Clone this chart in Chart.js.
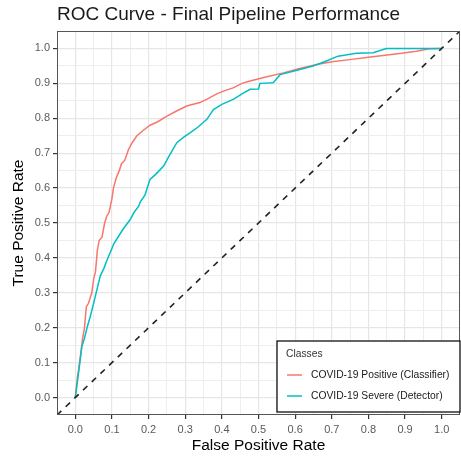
<!DOCTYPE html>
<html>
<head>
<meta charset="utf-8">
<script src="https://cdn.jsdelivr.net/npm/chart.js@4/dist/chart.umd.min.js"></script>
<style>
  html, body { margin: 0; padding: 0; background: #fff; }
</style>
</head>
<body>
<canvas id="roc" width="461" height="457"></canvas>
<script>
// values
const classLabels = ['COVID-19 Positive (Classifier)', 'COVID-19 Severe (Detector)'];
const classColors = ['#F8766D', '#00BFC4'];

const posFpr = [0, 0.003, 0.006, 0.009, 0.014, 0.02, 0.025, 0.03, 0.036, 0.045, 0.05, 0.055, 0.06, 0.065, 0.073, 0.08, 0.086, 0.092, 0.1, 0.104, 0.112, 0.12, 0.126, 0.135, 0.145, 0.155, 0.168, 0.185, 0.204, 0.225, 0.25, 0.275, 0.304, 0.34, 0.36, 0.386, 0.41, 0.431, 0.455, 0.477, 0.52, 0.568, 0.61, 0.659, 0.7, 0.749, 0.8, 0.84, 0.89, 0.931, 0.967, 1];
const posTpr = [0, 0.03, 0.06, 0.08, 0.12, 0.17, 0.2, 0.26, 0.27, 0.3, 0.34, 0.36, 0.42, 0.45, 0.46, 0.5, 0.52, 0.53, 0.57, 0.6, 0.63, 0.65, 0.67, 0.68, 0.71, 0.73, 0.75, 0.765, 0.78, 0.79, 0.806, 0.82, 0.835, 0.845, 0.855, 0.87, 0.88, 0.887, 0.9, 0.907, 0.918, 0.93, 0.942, 0.954, 0.962, 0.968, 0.975, 0.98, 0.986, 0.992, 0.999, 1];

const sevFpr = [0, 0.005, 0.01, 0.018, 0.025, 0.032, 0.041, 0.05, 0.059, 0.068, 0.078, 0.085, 0.095, 0.105, 0.118, 0.132, 0.15, 0.16, 0.173, 0.177, 0.19, 0.204, 0.22, 0.241, 0.255, 0.277, 0.295, 0.313, 0.335, 0.359, 0.377, 0.4, 0.431, 0.455, 0.477, 0.5, 0.504, 0.54, 0.559, 0.613, 0.649, 0.68, 0.717, 0.767, 0.813, 0.849, 1];
const sevTpr = [0, 0.04, 0.08, 0.147, 0.17, 0.2, 0.233, 0.27, 0.309, 0.348, 0.37, 0.39, 0.415, 0.44, 0.462, 0.485, 0.51, 0.53, 0.548, 0.56, 0.58, 0.625, 0.64, 0.663, 0.69, 0.73, 0.745, 0.758, 0.775, 0.797, 0.825, 0.84, 0.854, 0.87, 0.883, 0.884, 0.9, 0.902, 0.925, 0.94, 0.95, 0.962, 0.978, 0.986, 0.988, 1, 1];

const diagonal = [-0.05, 1.05];

const tickValues = [0, 0.1, 0.2, 0.3, 0.4, 0.5, 0.6, 0.7, 0.8, 0.9, 1.0];
const tickLabels = ['0.0', '0.1', '0.2', '0.3', '0.4', '0.5', '0.6', '0.7', '0.8', '0.9', '1.0'];

const FONT = '"Liberation Sans", Arial, sans-serif';

function toPoints(xs, ys) {
    return xs.map((x, i) => ({ x: x, y: ys[i] }));
}

function isMajor(v) {
    return tickValues.some(t => Math.abs(t - v) < 1e-9);
}

function labelFor(v) {
    const i = tickValues.findIndex(t => Math.abs(t - v) < 1e-9);
    return i >= 0 ? tickLabels[i] : '';
}

function buildTicks(scale) {
    const minors = tickValues.slice(1).map(v => v - 0.05);
    scale.ticks = tickValues.concat(minors).sort((a, b) => a - b).map(v => ({ value: v }));
}

function axisOptions(isX) {
    return {
        type: 'linear',
        min: -0.05,
        max: 1.05,
        afterBuildTicks: buildTicks,
        afterFit: s => { if (isX) s.height = 42; else s.width = 57; },
        border: { display: false },
        grid: {
            color: c => isMajor(c.tick.value) ? '#e6e6e6' : '#eeeeee',
            lineWidth: c => isMajor(c.tick.value) ? 1.2 : 1,
            tickLength: 4,
            tickColor: c => isMajor(c.tick.value) ? '#333333' : 'rgba(0,0,0,0)'
        },
        ticks: {
            autoSkip: false,
            maxRotation: 0,
            padding: isX ? 4 : 3,
            color: '#5a5a5a',
            font: { family: FONT, size: 11 },
            callback: v => labelFor(v)
        },
        title: {
            display: true,
            text: isX ? 'False Positive Rate' : 'True Positive Rate',
            color: '#000000',
            font: { family: FONT, size: 15.5 },
            padding: isX ? { top: 0, bottom: 2 } : { top: 9, bottom: 0 }
        }
    };
}

const panelPlugin = {
    id: 'panel',
    afterDatasetsDraw(chart) {
        const ca = chart.chartArea;
        const ctx = chart.ctx;
        ctx.save();
        ctx.strokeStyle = '#555555';
        ctx.lineWidth = 1;
        ctx.strokeRect(ca.left + 0.5, ca.top + 0.5, ca.right - ca.left - 1, ca.bottom - ca.top - 1);
        ctx.restore();
    },
    afterDraw(chart) {
        const ca = chart.chartArea;
        const ctx = chart.ctx;
        ctx.save();
        // title
        ctx.fillStyle = '#1a1a1a';
        ctx.font = '19px ' + FONT;
        ctx.textBaseline = 'alphabetic';
        ctx.textAlign = 'left';
        ctx.fillText('ROC Curve - Final Pipeline Performance', ca.left, 20);

        // legend box
        const w = 183, h = 71;
        const bx = ca.right - w, by = ca.bottom - 3 - h;
        ctx.fillStyle = '#ffffff';
        ctx.fillRect(bx, by, w, h);
        ctx.strokeStyle = '#111111';
        ctx.lineWidth = 1.3;
        ctx.strokeRect(bx, by, w, h);
        ctx.fillStyle = '#333333';
        ctx.font = '10.3px ' + FONT;
        ctx.textBaseline = 'middle';
        ctx.fillText('Classes', bx + 9, by + 13);
        classLabels.forEach((lab, i) => {
            const y = by + 34 + i * 21;
            ctx.strokeStyle = classColors[i];
            ctx.lineWidth = 1.5;
            ctx.beginPath();
            ctx.moveTo(bx + 10, y);
            ctx.lineTo(bx + 25, y);
            ctx.stroke();
            ctx.fillStyle = '#1a1a1a';
            ctx.fillText(lab, bx + 34, y);
        });
        ctx.restore();
    }
};

new Chart(document.getElementById('roc').getContext('2d'), {
    type: 'line',
    data: {
        datasets: [
            {
                label: classLabels[0],
                data: toPoints(posFpr, posTpr),
                borderColor: classColors[0],
                borderWidth: 1.5,
                pointRadius: 0,
                tension: 0,
                order: 3
            },
            {
                label: classLabels[1],
                data: toPoints(sevFpr, sevTpr),
                borderColor: classColors[1],
                borderWidth: 1.5,
                pointRadius: 0,
                tension: 0,
                order: 2
            },
            {
                label: 'diagonal',
                data: toPoints(diagonal, diagonal),
                borderColor: '#222222',
                borderWidth: 1.6,
                borderDash: [6, 6],
                pointRadius: 0,
                order: 1
            }
        ]
    },
    options: {
        responsive: false,
        animation: false,
        layout: { padding: { top: 31, right: 1, bottom: 0, left: 0 } },
        plugins: {
            legend: { display: false },
            tooltip: { enabled: false }
        },
        scales: {
            x: axisOptions(true),
            y: axisOptions(false)
        }
    },
    plugins: [panelPlugin]
});
</script>
</body>
</html>
